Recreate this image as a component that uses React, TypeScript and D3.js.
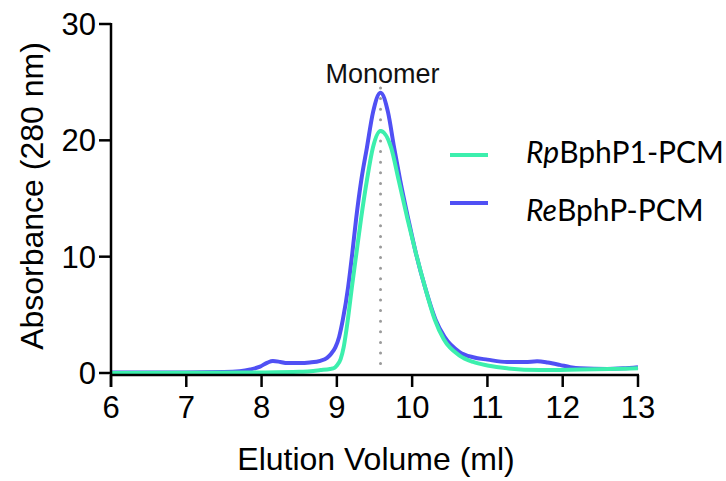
import React from 'react'
import * as d3 from 'd3'

// elution volume (ml) / absorbance at 280 nm
const reVolume = [6.0, 6.5, 7.0, 7.5, 7.71, 7.85, 7.98, 8.08, 8.15, 8.25, 8.34, 8.5, 8.64, 8.78, 8.87, 8.93, 8.98, 9.03, 9.08, 9.15, 9.205, 9.255, 9.325, 9.4, 9.48, 9.58, 9.68, 9.76, 9.84, 9.95, 10.05, 10.17, 10.31, 10.43, 10.63, 10.81, 11.0, 11.26, 11.5, 11.66, 11.8, 11.96, 12.1, 12.23, 12.59, 12.8, 13.0]
const reAbs = [0.05, 0.05, 0.05, 0.08, 0.15, 0.3, 0.55, 0.9, 1.03, 0.95, 0.85, 0.85, 0.9, 1.05, 1.3, 1.7, 2.2, 3.1, 4.6, 7.4, 10.3, 13.2, 16.6, 19.4, 22.4, 24.1, 22.4, 19.4, 16.6, 13.2, 10.3, 7.4, 4.6, 3.1, 1.8, 1.35, 1.15, 0.95, 0.95, 1.0, 0.9, 0.7, 0.5, 0.4, 0.35, 0.4, 0.5]

const rpVolume = [6.0, 7.0, 8.0, 8.5, 8.78, 8.91, 8.97, 9.0, 9.05, 9.09, 9.12, 9.15, 9.2, 9.26, 9.32, 9.4, 9.48, 9.58, 9.72, 9.82, 9.94, 10.05, 10.17, 10.3, 10.42, 10.63, 10.81, 11.0, 11.26, 11.7, 12.23, 13.0]
const rpAbs = [0.0, 0.02, 0.05, 0.1, 0.25, 0.35, 0.45, 0.65, 1.2, 2.2, 3.4, 4.8, 7.4, 10.3, 13.2, 16.6, 19.4, 20.8, 19.4, 16.6, 13.2, 10.3, 7.4, 4.6, 2.9, 1.5, 0.95, 0.65, 0.4, 0.25, 0.3, 0.4]

const xTicks = [6, 7, 8, 9, 10, 11, 12, 13]
const yTicks = [0, 10, 20, 30]
const monomerVolume = 9.58

const GREEN = '#3cefad'
const BLUE = '#5050f4'

const App = () => {
  const width = 726, height = 481
  const x = d3.scaleLinear().domain([6, 13]).range([111, 638])
  const y = d3.scaleLinear().domain([0, 30]).range([373, 24])
  const axisY = 375

  const line = d3.line<[number, number]>()
    .x(d => x(d[0]))
    .y(d => y(d[1]))
    .curve(d3.curveMonotoneX)

  const rp = line(rpVolume.map((v, i) => [v, rpAbs[i]] as [number, number]))
  const re = line(reVolume.map((v, i) => [v, reAbs[i]] as [number, number]))

  return (
    <svg width={width} height={height} style={{ position: 'absolute', left: 0, top: 0 }}
      fontFamily="'Liberation Sans', Arial, sans-serif">
      {/* dotted monomer marker */}
      <line x1={x(monomerVolume)} x2={x(monomerVolume)} y1={88} y2={373}
        stroke="#9a9a9a" strokeWidth={3} strokeLinecap="round" strokeDasharray="0 10.6" />
      <text x={x(monomerVolume) + 2} y={83} fontSize={27} textAnchor="middle" fill="#111">Monomer</text>

      <path d={re || ''} fill="none" stroke={BLUE} strokeWidth={4} />
      <path d={rp || ''} fill="none" stroke={GREEN} strokeWidth={4} />

      {/* axes */}
      <g stroke="#000" strokeWidth={2.5}>
        <line x1={x(6)} x2={x(6)} y1={y(30) - 1} y2={axisY + 12} />
        <line x1={x(6) - 1} x2={x(13) + 1} y1={axisY} y2={axisY} />
        {xTicks.map(t => (
          <line key={'xt' + t} x1={x(t)} x2={x(t)} y1={axisY} y2={axisY + 12} />
        ))}
        {yTicks.map(t => (
          <line key={'yt' + t} x1={x(6) - 12} x2={x(6)} y1={y(t)} y2={y(t)} />
        ))}
      </g>
      {xTicks.map(t => (
        <text key={'xl' + t} x={x(t)} y={418} fontSize={31} textAnchor="middle" fill="#000">{t}</text>
      ))}
      {yTicks.map(t => (
        <text key={'yl' + t} x={96} y={y(t) + 11} fontSize={31} textAnchor="end" fill="#000">{t}</text>
      ))}
      <text x={376} y={470} fontSize={32} textAnchor="middle" fill="#000">Elution Volume (ml)</text>
      <text transform={`translate(43,196) rotate(-90)`} fontSize={32} textAnchor="middle" fill="#000">Absorbance (280 nm)</text>

      {/* legend */}
      <g fontFamily="Lato, sans-serif" fontSize={30} fill="#000">
        <line x1={450} x2={488} y1={155} y2={155} stroke={GREEN} strokeWidth={4} />
        <text x={526} y={163}><tspan fontStyle="italic">Rp</tspan>BphP1-PCM</text>
        <line x1={450} x2={488} y1={203} y2={203} stroke={BLUE} strokeWidth={4} />
        <text x={526} y={221}><tspan fontStyle="italic">Re</tspan>BphP-PCM</text>
      </g>
    </svg>
  )
}

export default App
